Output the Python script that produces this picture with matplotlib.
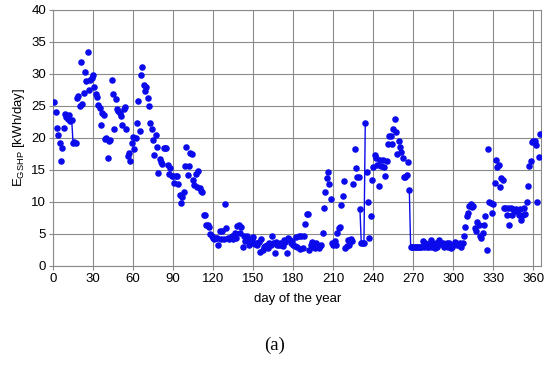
import numpy as np
import matplotlib.pyplot as plt

plt.rcParams['font.family'] = ['Liberation Sans', 'DejaVu Sans']
plt.rcParams['mathtext.fontset'] = 'custom'
plt.rcParams['mathtext.rm'] = 'Liberation Sans'

# daily GSHP energy, kWh/day, day 1..365
energy = [
    25.6, 24.0, 21.5, 20.5, 19.2, 16.4, 18.4, 21.5, 23.7, 23.3,
    22.9, 23.6, 22.7, 22.8, 19.2, 19.3, 19.2, 26.3, 26.5, 25.0,
    31.8, 25.3, 27.0, 30.3, 28.9, 33.4, 27.5, 29.1, 29.4, 29.8,
    27.9, 26.9, 26.4, 25.2, 24.6, 22.0, 23.8, 23.6, 19.8, 20.0,
    16.9, 19.5, 19.6, 29.1, 26.9, 21.4, 26.1, 24.5, 24.2, 23.9,
    23.4, 22.0, 24.5, 24.8, 21.4, 17.2, 17.7, 16.4, 19.2, 20.1,
    18.3, 20.0, 22.3, 25.8, 21.0, 29.8, 31.0, 28.3, 27.3, 27.9,
    26.3, 25.0, 22.3, 21.4, 19.7, 17.3, 20.5, 18.5, 14.5, 16.7,
    16.2, 15.9, 18.4, 18.4, 18.4, 15.8, 14.3, 15.3, 14.1, 14.1,
    12.9, 14.1, 14.1, 12.7, 11.1, 9.8, 10.8, 11.5, 15.6, 18.5,
    14.2, 15.6, 17.6, 17.5, 13.4, 12.6, 14.3, 12.3, 14.8, 12.2,
    11.7, 11.5, 8.0, 8.0, 6.3, 6.3, 6.0, 5.0, 4.6, 4.4,
    4.2, 4.4, 4.4, 3.2, 5.4, 4.1, 5.5, 4.2, 9.7, 5.9,
    4.4, 4.2, 4.4, 4.6, 4.2, 5.1, 4.4, 6.2, 6.3, 5.1,
    6.0, 3.0, 4.7, 3.9, 4.6, 4.1, 3.3, 3.5, 4.1, 4.5,
    3.4, 3.6, 3.3, 3.7, 2.1, 4.2, 2.5, 3.0, 3.1, 3.2,
    2.7, 3.5, 3.2, 4.7, 3.6, 2.0, 3.7, 3.2, 3.3, 3.5,
    3.2, 3.1, 4.0, 3.7, 2.0, 4.4, 4.1, 3.5, 3.8, 3.3,
    3.1, 4.5, 3.0, 4.7, 2.6, 4.7, 2.8, 4.6, 6.6, 8.1,
    8.1, 2.5, 3.3, 3.7, 3.0, 2.7, 3.6, 3.3, 2.8, 3.1,
    3.3, 5.1, 9.0, 11.5, 13.7, 14.6, 12.8, 10.4, 3.6, 3.3,
    3.8, 3.3, 5.1, 5.9, 6.0, 9.5, 10.9, 13.2, 2.8, 3.1,
    4.0, 3.3, 4.2, 3.8, 12.7, 18.2, 15.3, 13.8, 13.9, 8.9,
    3.5, 3.5, 3.5, 22.3, 14.6, 9.9, 4.4, 7.7, 13.4, 15.5,
    17.3, 16.8, 15.8, 12.5, 16.5, 15.6, 16.6, 15.5, 14.0, 16.4,
    19.0, 20.3, 20.3, 19.0, 21.3, 23.0, 20.9, 17.5, 19.5, 18.6,
    17.8, 16.9, 13.9, 13.9, 14.2, 16.2, 11.8, 3.0, 3.0, 3.0,
    3.0, 3.0, 3.0, 3.0, 3.0, 3.0, 3.8, 3.0, 3.6, 3.0,
    3.4, 2.9, 4.0, 3.0, 3.4, 2.7, 3.6, 3.0, 4.0, 3.6,
    3.4, 3.5, 2.9, 3.2, 3.5, 3.0, 3.5, 2.8, 3.0, 3.2,
    3.7, 3.5, 3.3, 3.2, 3.5, 3.0, 3.5, 4.6, 6.1, 7.8,
    8.2, 9.4, 9.7, 9.2, 9.3, 5.9, 5.5, 6.8, 6.4, 4.6,
    4.4, 5.1, 6.4, 7.7, 2.4, 18.2, 9.9, 9.8, 8.3, 9.7,
    13.0, 16.6, 15.5, 15.8, 12.3, 13.7, 13.4, 9.0, 9.0, 7.9,
    9.0, 6.3, 9.0, 7.9, 8.8, 8.5, 8.8, 8.5, 8.0, 8.8,
    7.1, 8.0, 9.0, 8.1, 9.9, 12.5, 15.6, 16.4, 19.4, 19.5,
    19.5, 18.9, 10.0, 17.0, 20.6,
]
days = np.arange(1, len(energy) + 1)

# stretches where the points are joined by a line (first day, last day)
linked = [(14, 15), (230, 234), (267, 276)]

x_ticks = list(range(0, 361, 30))
y_ticks = list(range(0, 41, 5))

blue = '#0a0aeb'
grid_col = '#8a8a8a'

fig = plt.figure(figsize=(5.5, 3.66), dpi=100)
ax = fig.add_axes([0.0964, 0.274, 0.888, 0.699])

e = np.array(energy)
for d0, d1 in linked:
    sel = (days >= d0) & (days <= d1)
    ax.plot(days[sel], e[sel], color=blue, lw=1.0, zorder=2)
ax.plot(days, e, 'o', color=blue, ms=3.7, mec=blue, zorder=3)

ax.set_xlim(0, 366)
ax.set_ylim(0, 40)
ax.set_xticks(x_ticks)
ax.set_yticks(y_ticks)
ax.grid(True, color=grid_col, lw=0.8)
ax.set_axisbelow(True)
for s in ax.spines.values():
    s.set_color(grid_col)
    s.set_linewidth(0.8)
ax.tick_params(length=3, color=grid_col, labelsize=9.5, pad=2)

ax.set_xlabel('day of the year', fontsize=9.5, labelpad=6)
ax.set_ylabel(r'E$_{\mathrm{GSHP}}$ [kWh/day]', fontsize=9.5, labelpad=3)

fig.text(0.5, 0.057, '(a)', ha='center', va='center', fontsize=13.5,
         family=['Liberation Serif', 'DejaVu Serif'])

fig.savefig('out.png', dpi=100)
